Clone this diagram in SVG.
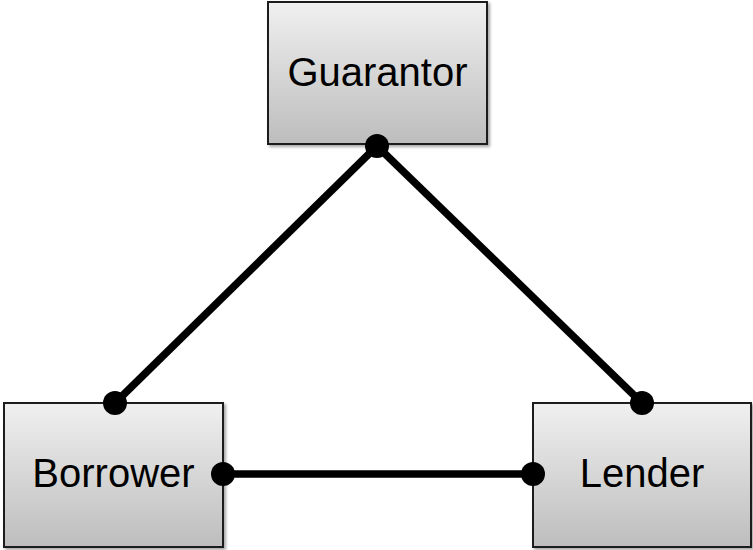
<svg xmlns="http://www.w3.org/2000/svg" width="753" height="550" viewBox="0 0 753 550">
<defs>
<linearGradient id="g" x1="0" y1="0" x2="0" y2="1">
<stop offset="0" stop-color="#f0f0f0"/>
<stop offset="1" stop-color="#bdbdbd"/>
</linearGradient>
<filter id="sh" x="-5%" y="-5%" width="115%" height="115%">
<feDropShadow dx="2" dy="2" stdDeviation="1.5" flood-color="#000" flood-opacity="0.35"/>
</filter>
</defs>
<style>
.box{fill:url(#g);stroke:#1a1a1a;stroke-width:2;filter:url(#sh)}
.lbl{font-family:"Liberation Sans",Arial,sans-serif;font-size:40px;fill:#000;text-anchor:middle}
.con{stroke:#000;stroke-width:7.5;fill:none}
.dot{fill:#000}
</style>
<rect width="753" height="550" fill="#fff"/>
<g id="guarantor">
<rect class="box" x="268" y="2" width="219" height="142"/>
<text class="lbl" x="377.5" y="86">Guarantor</text>
</g>
<g id="borrower">
<rect class="box" x="4" y="403" width="219" height="144"/>
<text class="lbl" x="113.5" y="487">Borrower</text>
</g>
<g id="lender">
<rect class="box" x="533" y="403" width="218" height="144"/>
<text class="lbl" x="642" y="487">Lender</text>
</g>
<g id="connectors">
<line class="con" x1="377" y1="146" x2="115" y2="403"/>
<line class="con" x1="377" y1="146" x2="642" y2="403"/>
<line class="con" x1="223" y1="474" x2="533" y2="474"/>
<circle class="dot" cx="377" cy="146" r="12"/>
<circle class="dot" cx="115" cy="403" r="12"/>
<circle class="dot" cx="642" cy="403" r="12"/>
<circle class="dot" cx="223" cy="474" r="12"/>
<circle class="dot" cx="533" cy="474" r="12"/>
</g>
</svg>
